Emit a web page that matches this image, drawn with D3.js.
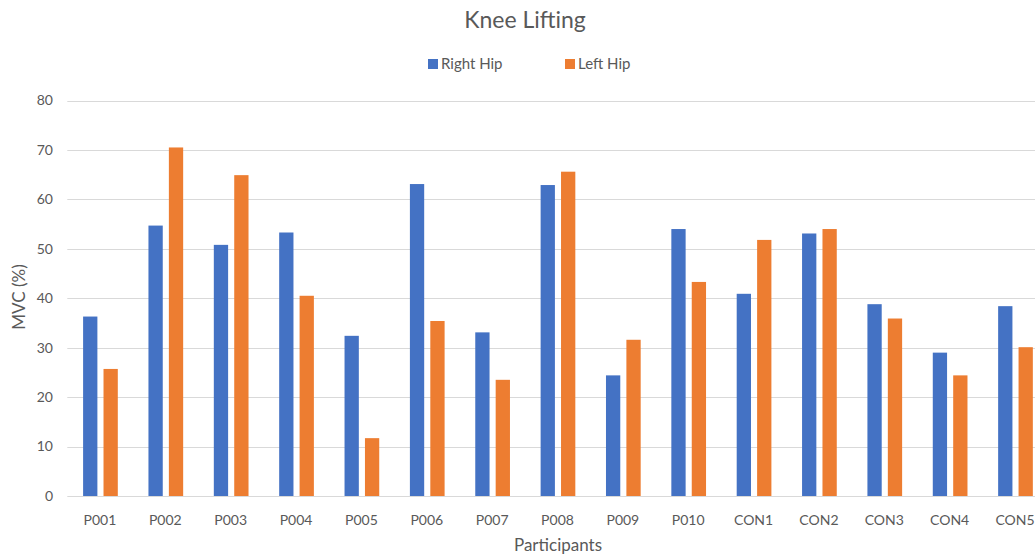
<!DOCTYPE html>
<html>
<head>
<meta charset="utf-8">
<script src="https://cdn.jsdelivr.net/npm/d3@7"></script>
<style>
  body { margin: 0; background: #fff; }
  text { font-family: Lato, "Open Sans", sans-serif; fill: #595959; }
</style>
</head>
<body>
<div id="chart"></div>
<script>
// Chart data
var categories = ['P001','P002','P003','P004','P005','P006','P007','P008','P009','P010','CON1','CON2','CON3','CON4','CON5'];
var seriesNames = ['Right Hip', 'Left Hip'];
var rightHip = [36.3, 54.7, 50.8, 53.3, 32.4, 63.1, 33.1, 62.9, 24.4, 54.0, 40.9, 53.1, 38.8, 29.0, 38.4];
var leftHip  = [25.7, 70.5, 64.9, 40.5, 11.7, 35.4, 23.5, 65.6, 31.6, 43.3, 51.8, 54.0, 35.9, 24.4, 30.1];
var yTicks = [0, 10, 20, 30, 40, 50, 60, 70, 80];

var colors = {'Right Hip': '#4472C4', 'Left Hip': '#ED7D31'};

var W = 1035, H = 557;
var plot = {left: 67.3, right: 1047.7, top: 100.5, bottom: 496};

var svg = d3.select('#chart').append('svg')
  .attr('width', W)
  .attr('height', H);

var x0 = d3.scaleBand()
  .domain(categories)
  .range([plot.left, plot.right])
  .padding(0);

var x1 = d3.scaleBand()
  .domain(seriesNames)
  .range([15.8, 50.5])
  .paddingInner(0.3)
  .paddingOuter(0);

var y = d3.scaleLinear()
  .domain([0, 80])
  .range([plot.bottom, plot.top]);

// gridlines
svg.append('g')
  .selectAll('line')
  .data(yTicks)
  .enter().append('line')
  .attr('x1', plot.left)
  .attr('x2', W)
  .attr('y1', function(d) { return Math.round(y(d)) + 0.5; })
  .attr('y2', function(d) { return Math.round(y(d)) + 0.5; })
  .attr('stroke', '#d9d9d9')
  .attr('stroke-width', 1);

// y tick labels
svg.append('g')
  .selectAll('text')
  .data(yTicks)
  .enter().append('text')
  .attr('x', 53)
  .attr('y', function(d) { return y(d); })
  .attr('dy', '0.35em')
  .attr('text-anchor', 'end')
  .style('font-size', '14px')
  .text(function(d) { return d; });

// bars
var rows = categories.map(function(c, i) {
  return {cat: c, values: [{key: 'Right Hip', value: rightHip[i]}, {key: 'Left Hip', value: leftHip[i]}]};
});

var groups = svg.append('g')
  .selectAll('g')
  .data(rows)
  .enter().append('g')
  .attr('transform', function(d) { return 'translate(' + x0(d.cat) + ',0)'; });

groups.selectAll('rect')
  .data(function(d) { return d.values; })
  .enter().append('rect')
  .attr('x', function(d) { return x1(d.key); })
  .attr('y', function(d) { return y(d.value); })
  .attr('width', x1.bandwidth())
  .attr('height', function(d) { return y(0) - y(d.value); })
  .attr('fill', function(d) { return colors[d.key]; });

// x labels
svg.append('g')
  .selectAll('text')
  .data(categories)
  .enter().append('text')
  .attr('x', function(d) { return x0(d) + x0.bandwidth() / 2; })
  .attr('y', 525)
  .attr('text-anchor', 'middle')
  .style('font-size', '14px')
  .text(function(d) { return d; });

// titles
svg.append('text')
  .attr('x', 525)
  .attr('y', 28)
  .attr('text-anchor', 'middle')
  .style('font-size', '23px')
  .text('Knee Lifting');

svg.append('text')
  .attr('x', 558)
  .attr('y', 551)
  .attr('text-anchor', 'middle')
  .style('font-size', '17px')
  .text('Participants');

svg.append('text')
  .attr('transform', 'translate(25,297) rotate(-90)')
  .attr('text-anchor', 'middle')
  .style('font-size', '17px')
  .text('MVC (%)');

// legend
var legendX = [428, 565];
var legend = svg.append('g')
  .selectAll('g')
  .data(seriesNames)
  .enter().append('g')
  .attr('transform', function(d, i) { return 'translate(' + legendX[i] + ',59)'; });

legend.append('rect')
  .attr('width', 10)
  .attr('height', 10)
  .attr('fill', function(d) { return colors[d]; });

legend.append('text')
  .attr('x', 13)
  .attr('y', 5)
  .attr('dy', '0.35em')
  .style('font-size', '15px')
  .text(function(d) { return d; });
</script>
</body>
</html>
